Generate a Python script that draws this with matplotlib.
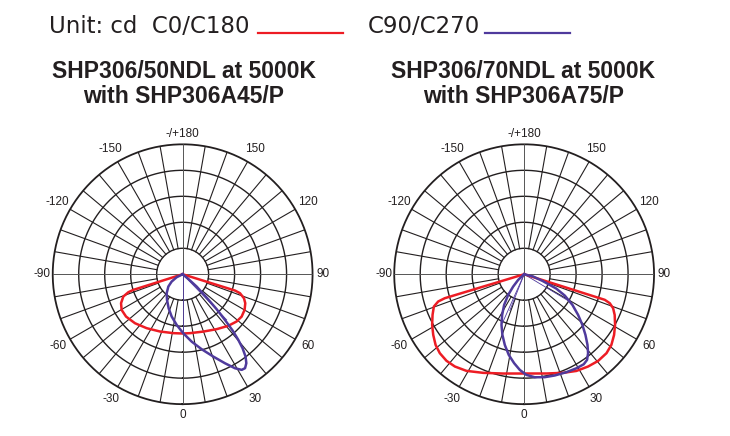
import numpy as np
import matplotlib
matplotlib.use("Agg")
import matplotlib.pyplot as plt
from matplotlib.lines import Line2D

# angles in degrees (0 = down, positive towards the right), r relative to outer ring
left_red_ang = [-90, -73.5, -72.4, -71.7, -69.4, -64.8, -59.7, -53.2, -44.2, -33.7, -21.6, -9,
                0, 7.1, 19.8, 31.7, 41.5, 48.8, 54.3, 60.1, 65.2, 68.6, 71.7, 72.7, 73.8, 90]
left_red_r = [0, 0, 0.398, 0.44, 0.488, 0.524, 0.544, 0.544, 0.526, 0.499, 0.474, 0.459,
              0.456, 0.457, 0.469, 0.497, 0.53, 0.552, 0.559, 0.55, 0.531, 0.507, 0.465, 0.422, 0, 0]

left_blue_ang = [-90, -68, -63.4, -56.3, -49.3, -40.1, -31.4, -22.4, -14.6, -6.8, 0.6, 7.6, 14.2,
                 20.4, 25.4, 29.1, 31.7, 33.6, 35.6, 37.4, 39, 40.3, 41.6, 42.8, 44.2, 45.8,
                 48.6, 50.5, 53, 90]
left_blue_r = [0, 0, 0.052, 0.102, 0.145, 0.191, 0.231, 0.283, 0.336, 0.392, 0.454, 0.523, 0.595,
               0.676, 0.758, 0.828, 0.865, 0.868, 0.842, 0.797, 0.733, 0.662, 0.579, 0.479, 0.375, 0.257,
               0.144, 0.056, 0, 0]

right_red_ang = [-90, -74.2, -73.2, -72.4, -70.3, -66.1, -61.2, -56.3, -51.4, -46.9, -41.9, -36.9,
                 -30.8, -22.6, -11.9, 0, 12.7, 21.6, 28.4, 34.7, 40.5, 46.2, 51, 56, 60.9, 65.8,
                 69.1, 71.3, 72.4, 73.4, 90]
right_red_r = [0, 0, 0.638, 0.694, 0.738, 0.771, 0.808, 0.841, 0.872, 0.889, 0.895, 0.888,
               0.866, 0.822, 0.781, 0.764, 0.783, 0.816, 0.846, 0.864, 0.877, 0.878, 0.864, 0.835, 0.801, 0.764,
               0.733, 0.696, 0.651, 0, 0]

right_blue_ang = [-90, -49, -46.6, -41.7, -37.7, -33.1, -28.4, -24.1, -19.7, -15.3, -10.8, -6.4, -2.6,
                  1.3, 5.9, 11.3, 16.8, 23.4, 29.1, 33.5, 36.3, 39, 41.9, 45.3, 49, 53, 57.6,
                  62.3, 66, 70, 76, 82, 90]
right_blue_r = [0, 0, 0.063, 0.127, 0.201, 0.282, 0.356, 0.427, 0.496, 0.564, 0.632, 0.689, 0.737,
                0.775, 0.797, 0.808, 0.814, 0.821, 0.828, 0.831, 0.818, 0.782, 0.73, 0.664, 0.594, 0.52, 0.44,
                0.353, 0.27, 0.15, 0.07, 0, 0]

# thin stray blue strokes from the centre
left_spoke_ang = [0, 44]
left_spoke_r = [0.454, 0.488]
right_spoke_ang = [-24, -21.5, 59]
right_spoke_r = [0.41, 0.3, 0.41]

tick_angles = [0, 30, 60, 90, 120, 150, 180, -150, -120, -90, -60, -30]
tick_labels = ['0', '30', '60', '90', '120', '150', '-/+180', '-150', '-120', '-90', '-60', '-30']

titles = [("SHP306/50NDL at 5000K", "with SHP306A45/P"),
          ("SHP306/70NDL at 5000K", "with SHP306A75/P")]

RED = '#ed1c24'
BLUE = '#4f3a9c'
INK = '#231f20'

fig = plt.figure(figsize=(7.3, 4.36), dpi=100)


def polar_panel(rect, red_a, red_r, blue_a, blue_r, sp_a, sp_r):
    ax = fig.add_axes(rect, projection='polar')
    ax.set_theta_zero_location('S')
    ax.set_theta_direction(1)
    ax.set_ylim(0, 1)
    ax.axis('off')

    t = np.linspace(0, 2 * np.pi, 400)
    for rr in [0.2, 0.4, 0.6, 0.8]:
        ax.plot(t, np.full_like(t, rr), color=INK, lw=1.0)
    ax.plot(t, np.ones_like(t), color=INK, lw=1.3, clip_on=False)

    for a in range(0, 360, 10):
        th = np.deg2rad(a)
        if a % 90 == 0:
            ax.plot([th, th], [0, 1], color='#555555', lw=0.7)
        else:
            ax.plot([th, th], [0.2, 1], color=INK, lw=0.8)

    for a, r in zip(sp_a, sp_r):
        ax.plot([0, np.deg2rad(a)], [0, r], color=BLUE, lw=0.6)

    ax.plot(np.deg2rad(red_a), red_r, color=RED, lw=1.8, solid_joinstyle='round')
    ax.plot(np.deg2rad(blue_a), blue_r, color=BLUE, lw=1.8, solid_joinstyle='round')

    for a, lab in zip(tick_angles, tick_labels):
        rr = 1.08 if a % 90 == 0 else 1.11
        ax.text(np.deg2rad(a), rr, lab, ha='center', va='center',
                fontsize=8.5, color=INK, family='Liberation Sans')
    return ax


polar_panel([0.0722, 0.073, 0.356, 0.596], left_red_ang, left_red_r,
            left_blue_ang, left_blue_r, left_spoke_ang, left_spoke_r)
polar_panel([0.5400, 0.073, 0.356, 0.596], right_red_ang, right_red_r,
            right_blue_ang, right_blue_r, right_spoke_ang, right_spoke_r)

# header legend
W, H = 730.0, 436.0
fig.text(49 / W, 1 - 32.7 / H, "Unit: cd  C0/C180", fontsize=16.5, color=INK,
         ha='left', va='baseline', family='DejaVu Sans')
fig.text(368 / W, 1 - 32.7 / H, "C90/C270", fontsize=16.5, color=INK,
         ha='left', va='baseline', family='DejaVu Sans')
fig.add_artist(Line2D([258 / W, 343 / W], [1 - 33 / H, 1 - 33 / H], color=RED, lw=1.6))
fig.add_artist(Line2D([485 / W, 570 / W], [1 - 33 / H, 1 - 33 / H], color=BLUE, lw=1.6))

for cx, (l1, l2) in zip([183.5, 523.5], titles):
    fig.text(cx / W, 1 - 77.7 / H, l1, fontsize=16.5, fontweight='bold', color=INK,
             ha='center', va='baseline', family='Liberation Sans')
    fig.text(cx / W, 1 - 103 / H, l2, fontsize=16.5, fontweight='bold', color=INK,
             ha='center', va='baseline', family='Liberation Sans')

fig.savefig('out.png', dpi=100, facecolor='white')
